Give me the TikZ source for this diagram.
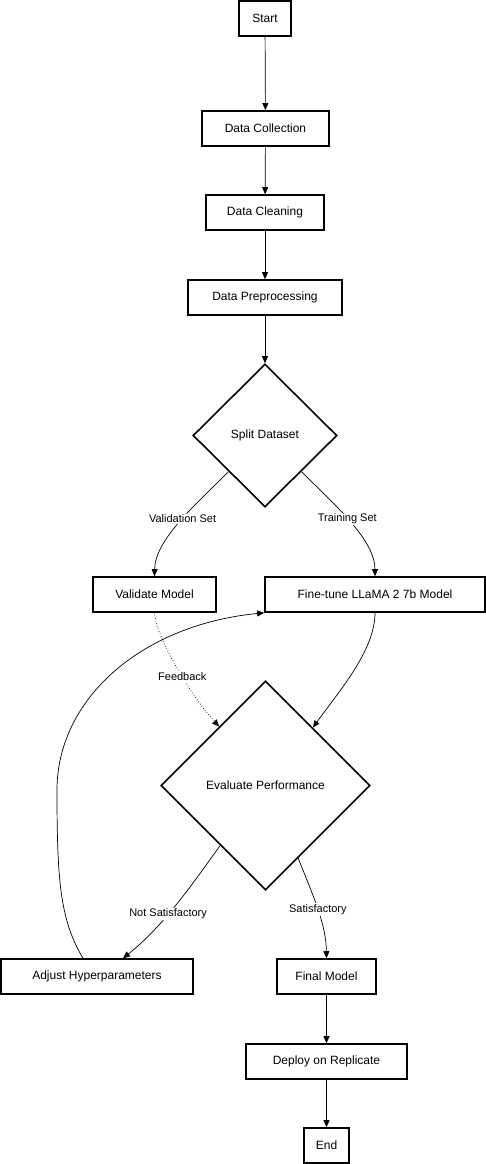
\documentclass[tikz,border=0pt]{standalone}
\usepackage{fontspec}
\setmainfont{Liberation Sans}
\usetikzlibrary{shapes.geometric,arrows.meta,calc}
\begin{document}
\begin{tikzpicture}[x=1pt,y=-1pt,
  box/.style={draw,line width=1.6pt,rectangle,minimum height=35pt,inner sep=0pt,font=\fontsize{12}{14}\selectfont},
  dec/.style={draw,line width=1.6pt,diamond,inner sep=0pt,font=\fontsize{12}{14}\selectfont},
  conn/.style={line width=0.7pt,-{Triangle[length=7pt,width=6pt]}},
  lbl/.style={fill=white,inner sep=1pt,font=\fontsize{11}{13}\selectfont}]
\useasboundingbox (0,0) rectangle (486,1164);
\node[box,minimum width=52pt] (start) at (265,18.5) {Start};
\node[box,minimum width=127pt] (dcol) at (265.5,128.5) {Data Collection};
\node[box,minimum width=118pt] (dcl) at (265,212.5) {Data Cleaning};
\node[box,minimum width=154pt] (dpre) at (265,297.5) {Data Preprocessing};
\node[dec,minimum width=144pt,minimum height=143pt] (split) at (265,435.5) {Split Dataset};
\node[box,minimum width=123pt] (val) at (154.5,594.5) {Validate Model};
\node[box,minimum width=220pt] (ft) at (375,594.5) {Fine-tune LLaMA 2 7b Model};
\node[dec,minimum width=209pt,minimum height=209pt] (eval) at (265.5,785.5) {Evaluate Performance};
\node[box,minimum width=192pt] (adj) at (97,976.5) {Adjust Hyperparameters};
\node[box,minimum width=99pt] (fin) at (326.5,976.5) {Final Model};
\node[box,minimum width=161pt] (dep) at (326.5,1061.5) {Deploy on Replicate};
\node[box,minimum width=45pt] (end) at (326.5,1145.5) {End};

\draw[conn] (start) -- (dcol);
\draw[conn] (dcol) -- (dcl);
\draw[conn] (dcl) -- (dpre);
\draw[conn] (dpre) -- (split.north);

\coordinate (sl) at ($(split.west)!0.5!(split.south)$);
\coordinate (sr) at ($(split.east)!0.5!(split.south)$);
\draw[conn] (sl) .. controls (195,505) and (155,540) .. (val.north)
  node[lbl,pos=0.46] {Validation Set};
\draw[conn] (sr) .. controls (335,505) and (375,540) .. (ft.north)
  node[lbl,pos=0.46] {Training Set};

\coordinate (el) at ($(eval.north)!0.44!(eval.west)$);
\coordinate (er) at ($(eval.north)!0.45!(eval.east)$);
\draw[conn,dotted] (val.south) .. controls (155,635) and (190,695) .. (el)
  node[lbl,pos=0.58] {Feedback};
\draw[conn] (ft.south) .. controls (375,650) and (340,690) .. (er);

\coordinate (ebl) at ($(eval.west)!0.57!(eval.south)$);
\coordinate (ebr) at ($(eval.east)!0.69!(eval.south)$);
\draw[conn] (ebl) .. controls (195,880) and (165,925) .. ([xshift=26pt]adj.north)
  node[lbl,pos=0.6] {Not Satisfactory};
\draw[conn] (ebr) .. controls (315,900) and (326,925) .. (fin.north)
  node[lbl,pos=0.48] {Satisfactory};

\draw[conn] ([xshift=-14pt]adj.north) .. controls (60,920) and (57,880) .. (57,790)
  .. controls (57,700) and (140,625) .. (ft.south west);

\draw[conn] (fin) -- (dep);
\draw[conn] (dep) -- (end);
\end{tikzpicture}
\end{document}
